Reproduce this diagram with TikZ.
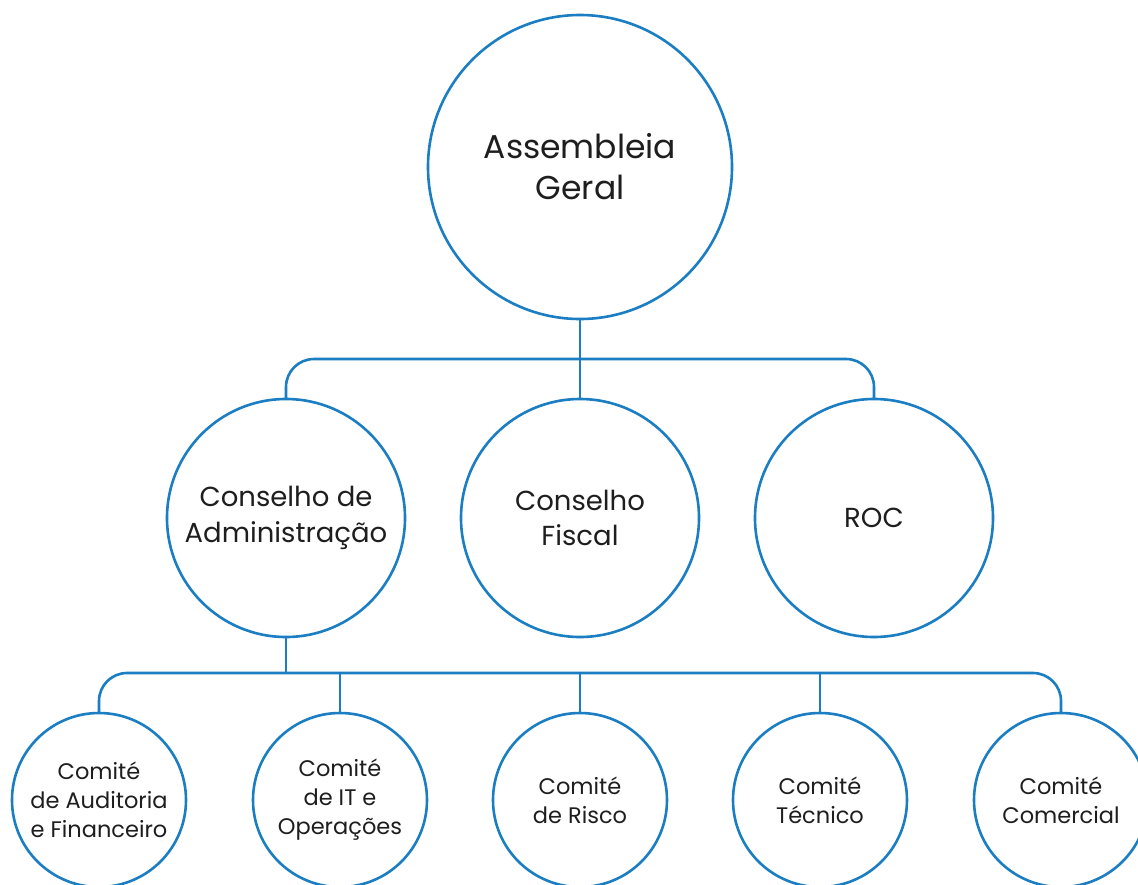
\documentclass[tikz,border=0pt]{standalone}
\usepackage{fontspec}
\setmainfont{Poppins}
\definecolor{orgblue}{HTML}{1B7EC2}
\definecolor{txt}{HTML}{1E1E1E}
\begin{document}
\begin{tikzpicture}[x=1pt,y=-1pt,
  circ/.style={circle,draw=orgblue,line width=2.6pt,inner sep=0pt,outer sep=0pt,align=center,text=txt},
  big/.style={circ,minimum size=304pt,font=\fontsize{33}{41}\selectfont},
  mid/.style={circ,minimum size=238pt,font=\fontsize{27.5}{35.5}\selectfont},
  small/.style={circ,minimum size=174pt,font=\fontsize{22.5}{29}\selectfont},
  conn/.style={draw=orgblue,line width=2.6pt,rounded corners=28pt}]
\clip (0,0) rectangle (1138,884);
\fill[white] (0,0) rectangle (1138,884);
\node[big] (ag) at (580,167) {Assembleia\\Geral};
\node[mid] (ca) at (286,518) {Conselho de\\Administração};
\node[mid] (cf) at (580,518) {Conselho\\Fiscal};
\node[mid] (roc) at (874,518) {ROC};
\node[small] (c1) at (99,800) {Comité\\de Auditoria\\e Financeiro};
\node[small] (c2) at (340,800) {Comité\\de IT e\\Operações};
\node[small] (c3) at (580,800) {Comité\\de Risco};
\node[small] (c4) at (820,800) {Comité\\Técnico};
\node[small] (c5) at (1061,800) {Comité\\Comercial};
\coordinate (j1) at (580,359);
\coordinate (j2) at (286,673);
\draw[conn] (ca.north) |- (j1) -| (roc.north);
\draw[conn] (ag.south) -- (cf.north);
\draw[conn] (c1.north) |- (j2) -| (c5.north);
\draw[conn] (ca.south) -- (j2);
\draw[conn] (c2.north) -- (c2.north |- j2);
\draw[conn] (c3.north) -- (c3.north |- j2);
\draw[conn] (c4.north) -- (c4.north |- j2);
\end{tikzpicture}
\end{document}
